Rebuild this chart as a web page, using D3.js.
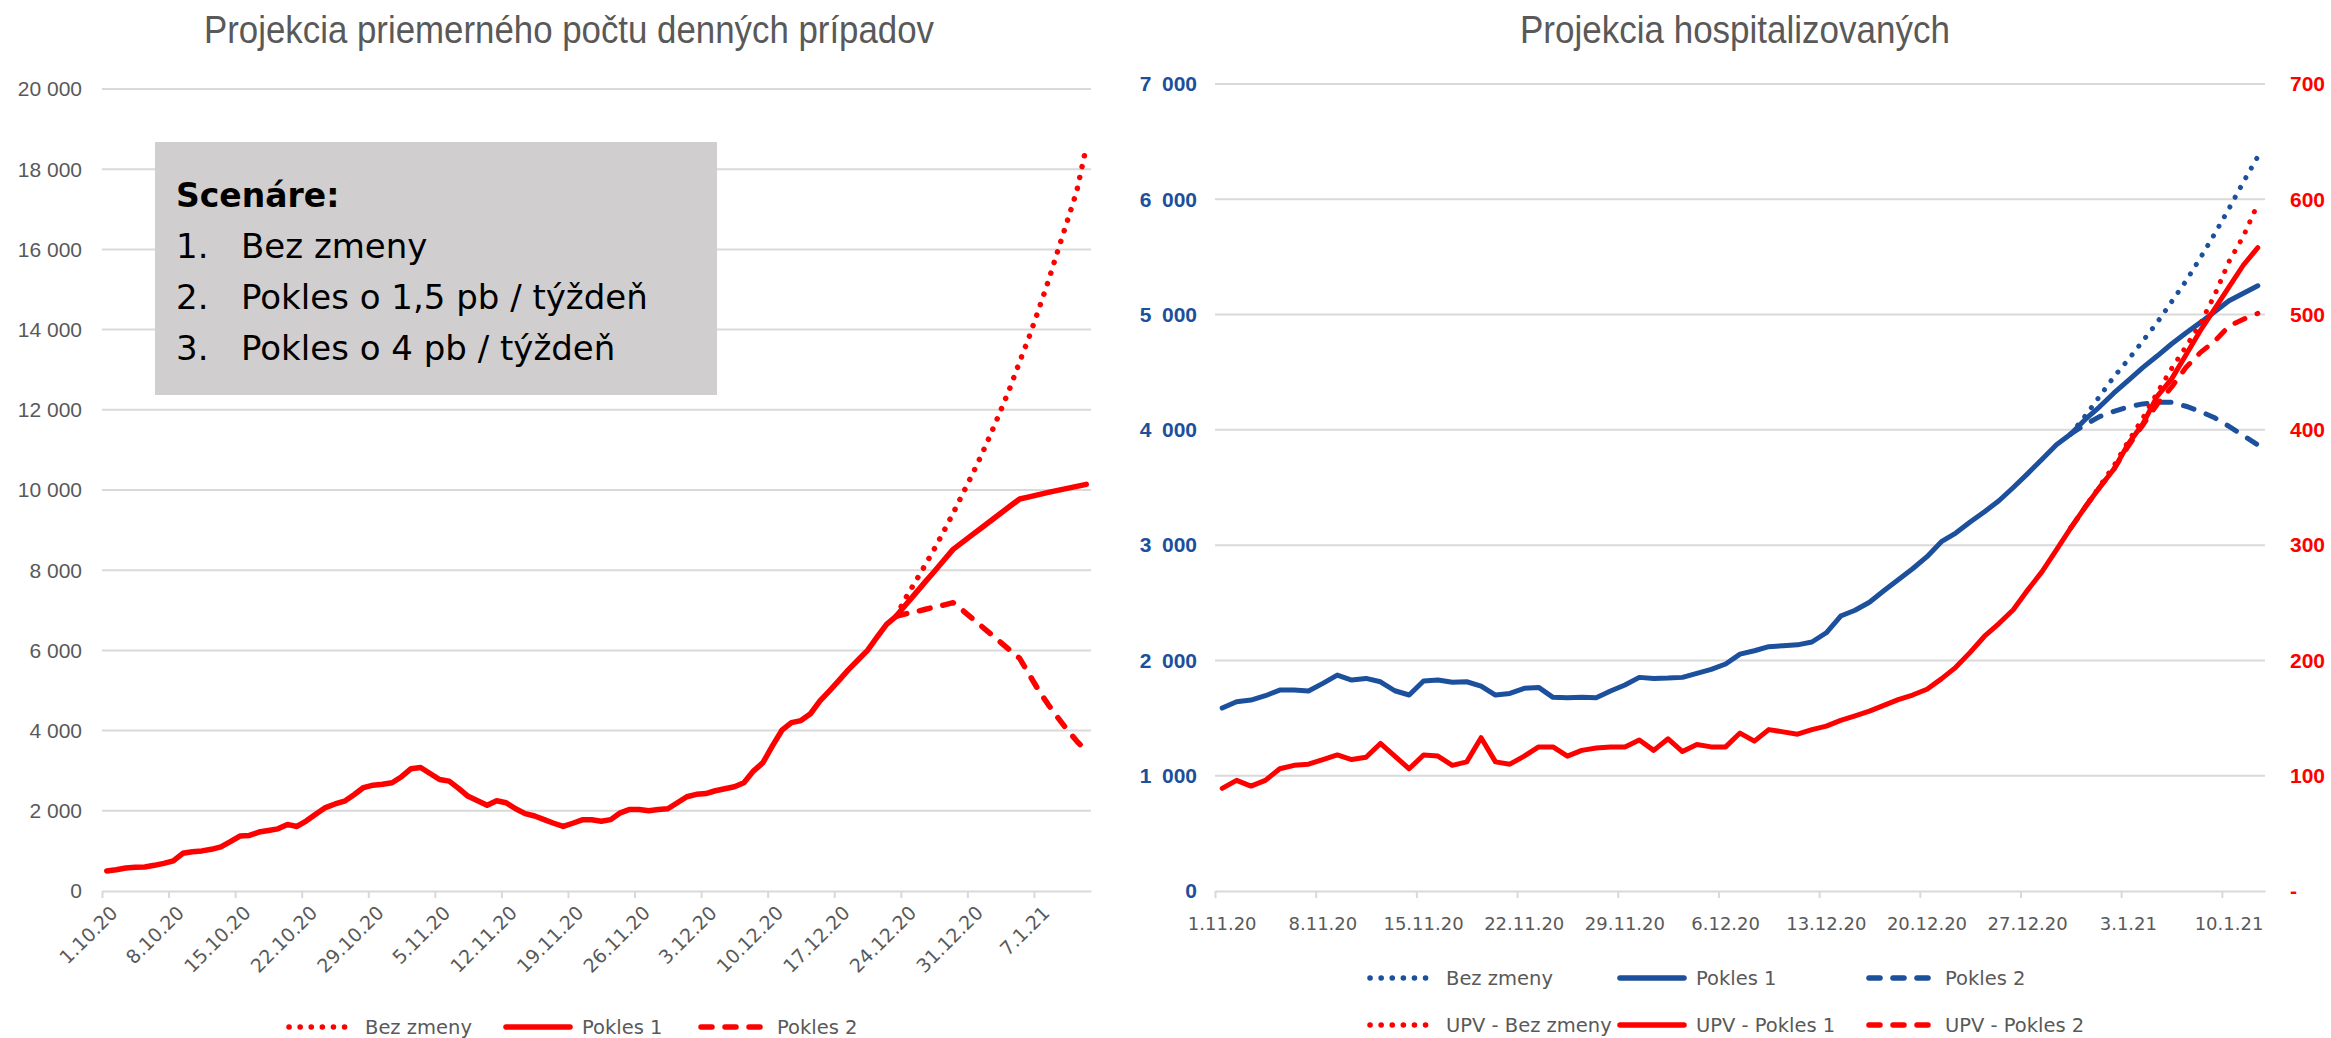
<!DOCTYPE html>
<html>
<head>
<meta charset="utf-8">
<script src="https://d3js.org/d3.v7.min.js"></script>
<style>
  body { margin: 0; background: #fff; }
  svg { display: block; background: #fff; }
</style>
</head>
<body>
<svg id="chart" width="2331" height="1038"></svg>
<script>
// ---- left chart: average daily cases ----
const casesStart = "2020-10-01";
const casesEnd = "2021-01-13";
const casesSplit = "2020-12-23";
const casesTicks = [0, 2000, 4000, 6000, 8000, 10000, 12000, 14000, 16000, 18000, 20000];
// Pokles 1 runs over the whole period (history + projection)
const casesPokles1 = [
  500, 530, 575, 590, 600, 640, 690, 750, 940, 980,
  1000, 1040, 1100, 1230, 1370, 1385, 1470, 1510, 1550, 1660,
  1610, 1750, 1920, 2080, 2170, 2240, 2400, 2580, 2640, 2660,
  2700, 2850, 3050, 3080, 2930, 2780, 2740, 2560, 2360, 2250,
  2140, 2250, 2200, 2050, 1930, 1870, 1780, 1690, 1610, 1690,
  1775, 1775, 1740, 1780, 1950, 2035, 2030, 2000, 2030, 2050,
  2200, 2350, 2410, 2430, 2500, 2550, 2600, 2700, 2990, 3200,
  3620, 4010, 4200, 4250, 4420, 4740, 4990, 5250, 5520, 5760,
  6000, 6330, 6650, 6850, 7130, 7410, 7690, 7960, 8240, 8520,
  8700, 8880, 9060, 9240, 9420, 9600, 9775, 9830, 9885, 9940,
  9990, 10040, 10090, 10140
];
// from 23.12.20
const casesBezZmeny = [6850, 7300, 7700, 8100, 8520, 8960, 9420, 9900, 10380, 10880,
  11420, 11980, 12560, 13200, 13820, 14500, 15200, 15960, 16700, 17450, 18550];
const casesPokles2 = [6850, 6910, 6960, 7020, 7080, 7130, 7190, 7000, 6800, 6600,
  6400, 6200, 6000, 5800, 5400, 5000, 4650, 4330, 4020, 3740, 3490];

// ---- right chart: hospitalised (left axis) and UPV (right axis) ----
const hospStart = "2020-11-01";
const hospEnd = "2021-01-13";
const hospSplit = "2020-12-30";
const hospTicks = [0, 1000, 2000, 3000, 4000, 5000, 6000, 7000];
const upvTicks = [0, 100, 200, 300, 400, 500, 600, 700];
const hospPokles1 = [
  1587, 1642, 1656, 1694, 1743, 1743, 1735, 1801, 1873, 1830,
  1844, 1815, 1737, 1700, 1821, 1830, 1810, 1815, 1778, 1700,
  1714, 1758, 1766, 1680, 1677, 1680, 1677, 1735, 1787, 1853,
  1844, 1847, 1853, 1888, 1922, 1969, 2055, 2084, 2119, 2128,
  2135, 2160, 2240, 2385, 2435, 2505, 2605, 2700, 2795, 2900,
  3030, 3105, 3200, 3290, 3385, 3500, 3620, 3745, 3870, 3965,
  4090, 4200, 4320, 4430, 4540, 4640, 4745, 4840, 4930, 5025,
  5120, 5185, 5250
];
// from 30.12.20
const hospBezZmeny = [3965, 4120, 4290, 4460, 4610, 4770, 4930, 5110, 5290, 5490, 5700, 5920, 6150, 6370];
const hospPokles2 = [3965, 4045, 4115, 4160, 4200, 4225, 4240, 4240, 4205, 4160, 4105, 4030, 3950, 3870];
const upvPokles1 = [
  89, 96, 91, 96, 106, 109, 110, 114, 118, 114,
  116, 128, 117, 106, 118, 117, 109, 112, 133, 112,
  110, 117, 125, 125, 117, 122, 124, 125, 125, 131,
  122, 132, 121, 127, 125, 125, 137, 130, 140, 138,
  136, 140, 143, 148, 152, 156, 161, 166, 170, 175,
  184, 194, 207, 221, 232, 244, 261, 277, 296, 315,
  333, 350, 366, 388, 405, 429, 444, 465, 486, 505,
  524, 543, 558
];
const upvBezZmeny = [315, 333, 351, 369, 390, 410, 432, 453, 472, 492, 517, 546, 568, 596];
const upvPokles2 = [315, 333, 350, 366, 386, 404, 422, 437, 454, 467, 477, 490, 496, 501];

const scenarioNumbers = ["1.", "2.", "3."];
const scenarioLabels = ["Bez zmeny", "Pokles o 1,5 pb / týždeň", "Pokles o 4 pb / týždeň"];
const casesLegend = ["Bez zmeny", "Pokles 1", "Pokles 2"];
const hospLegend = ["Bez zmeny", "Pokles 1", "Pokles 2", "UPV - Bez zmeny", "UPV - Pokles 1", "UPV - Pokles 2"];

const RED = "#ff0000";
const BLUE = "#1c4f9c";
const GREY = "#595959";
const GRID = "#d9d9d9";

const parseDay = d3.timeParse("%Y-%m-%d");
const fmtDay = d3.timeFormat("%-d.%-m.%y");
const fmtCases = d3.formatLocale({ decimal: ",", thousands: "\u00a0", grouping: [3], currency: ["", ""] }).format(",d");
const fmtHosp = d3.formatLocale({ decimal: ",", thousands: "\u2002", grouping: [3], currency: ["", ""] }).format(",d");

const lineStyle = {
  dot: { dash: "0.1 11", cap: "round" },
  solid: { dash: null, cap: "round" },
  dash: { dash: "11 13", cap: "round" }
};

// points sit in the middle of each day
function seriesPoints(start, values) {
  const s = parseDay(start);
  return values.map((v, i) => ({ date: d3.timeHour.offset(d3.timeDay.offset(s, i), 12), value: v }));
}

function drawSeries(g, line, points, color, style, width) {
  g.append("path")
    .datum(points)
    .attr("d", line)
    .attr("fill", "none")
    .attr("stroke", color)
    .attr("stroke-width", width)
    .attr("stroke-linejoin", "round")
    .attr("stroke-linecap", lineStyle[style].cap)
    .attr("stroke-dasharray", lineStyle[style].dash);
}

function drawXAxis(g, x, ticks, bottom) {
  const axis = g.append("g")
    .attr("transform", `translate(0,${bottom})`)
    .call(d3.axisBottom(x).tickValues(ticks).tickSize(7).tickSizeOuter(0).tickFormat(""));
  axis.select(".domain").attr("stroke", GRID).attr("stroke-width", 2);
  axis.selectAll(".tick line").attr("stroke", GRID).attr("stroke-width", 2);
}

function drawLegendItem(g, tx, ty, label, color, style) {
  g.append("line")
    .attr("x1", tx - 76).attr("x2", tx - 12)
    .attr("y1", ty).attr("y2", ty)
    .attr("stroke", color)
    .attr("stroke-width", 5.5)
    .attr("stroke-linecap", lineStyle[style].cap)
    .attr("stroke-dasharray", lineStyle[style].dash);
  g.append("text")
    .attr("x", tx).attr("y", ty).attr("dy", "0.35em")
    .attr("font-family", "DejaVu Sans").attr("font-size", 19.5)
    .attr("fill", GREY)
    .text(label);
}

document.addEventListener("DOMContentLoaded", () => {
  const svg = d3.select("#chart");
  createCasesChart(svg);
  createHospChart(svg);
});

function createCasesChart(svg) {
  const left = 102, right = 1091, top = 89, bottom = 891;
  const g = svg.append("g");

  const x = d3.scaleTime()
    .domain([parseDay(casesStart), parseDay(casesEnd)])
    .range([left, right]);
  const y = d3.scaleLinear().domain([0, 20000]).range([bottom, top]);

  g.append("text")
    .attr("x", 569).attr("y", 43)
    .attr("text-anchor", "middle")
    .attr("font-family", "Liberation Sans").attr("font-size", 39)
    .attr("fill", GREY)
    .attr("textLength", 730).attr("lengthAdjust", "spacingAndGlyphs")
    .text("Projekcia priemerného počtu denných prípadov");

  g.selectAll(".grid")
    .data(casesTicks.filter(d => d > 0))
    .enter().append("line")
    .attr("x1", left).attr("x2", right)
    .attr("y1", d => y(d)).attr("y2", d => y(d))
    .attr("stroke", GRID).attr("stroke-width", 2);

  g.selectAll(".ylab")
    .data(casesTicks)
    .enter().append("text")
    .attr("x", 82).attr("y", d => y(d)).attr("dy", "0.35em")
    .attr("text-anchor", "end")
    .attr("font-family", "Liberation Sans").attr("font-size", 21)
    .attr("fill", GREY)
    .text(d => fmtCases(d));

  const xTicks = d3.timeDay.range(parseDay(casesStart), parseDay(casesEnd), 7);
  drawXAxis(g, x, xTicks, bottom);

  g.selectAll(".xlab")
    .data(xTicks)
    .enter().append("text")
    .attr("transform", d => `translate(${x(d3.timeHour.offset(d, 12)) + 2},${bottom + 13}) rotate(-45)`)
    .attr("dy", "0.75em")
    .attr("text-anchor", "end")
    .attr("font-family", "DejaVu Sans").attr("font-size", 19)
    .attr("fill", GREY)
    .text(d => fmtDay(d));

  // scenario box
  g.append("rect")
    .attr("x", 155).attr("y", 142)
    .attr("width", 562).attr("height", 253)
    .attr("fill", "#d0cece");
  g.append("text")
    .attr("x", 176).attr("y", 207)
    .attr("font-family", "DejaVu Sans").attr("font-weight", "bold").attr("font-size", 33)
    .attr("fill", "#000")
    .text("Scenáre:");
  scenarioLabels.forEach((label, i) => {
    const yy = 258 + i * 51;
    g.append("text")
      .attr("x", 176).attr("y", yy)
      .attr("font-family", "DejaVu Sans").attr("font-size", 34)
      .attr("fill", "#000")
      .text(scenarioNumbers[i]);
    g.append("text")
      .attr("x", 241).attr("y", yy)
      .attr("font-family", "DejaVu Sans").attr("font-size", 34)
      .attr("fill", "#000")
      .text(label);
  });

  const line = d3.line().x(d => x(d.date)).y(d => y(d.value));
  drawSeries(g, line, seriesPoints(casesSplit, casesBezZmeny), RED, "dot", 5.5);
  drawSeries(g, line, seriesPoints(casesStart, casesPokles1), RED, "solid", 5.5);
  drawSeries(g, line, seriesPoints(casesSplit, casesPokles2), RED, "dash", 5.5);

  const styles = ["dot", "solid", "dash"];
  const legendX = [365, 582, 777];
  casesLegend.forEach((label, i) => drawLegendItem(g, legendX[i], 1027, label, RED, styles[i]));
}

function createHospChart(svg) {
  const left = 1215, right = 2265, top = 84, bottom = 891;
  const g = svg.append("g");

  const x = d3.scaleTime()
    .domain([parseDay(hospStart), parseDay(hospEnd)])
    .range([left, right]);
  const y = d3.scaleLinear().domain([0, 7000]).range([bottom, top]);
  const y2 = d3.scaleLinear().domain([0, 700]).range([bottom, top]);

  g.append("text")
    .attr("x", 1735).attr("y", 43)
    .attr("text-anchor", "middle")
    .attr("font-family", "Liberation Sans").attr("font-size", 39)
    .attr("fill", GREY)
    .attr("textLength", 430).attr("lengthAdjust", "spacingAndGlyphs")
    .text("Projekcia hospitalizovaných");

  g.selectAll(".grid")
    .data(hospTicks.filter(d => d > 0))
    .enter().append("line")
    .attr("x1", left).attr("x2", right)
    .attr("y1", d => y(d)).attr("y2", d => y(d))
    .attr("stroke", GRID).attr("stroke-width", 2);

  g.selectAll(".ylab")
    .data(hospTicks)
    .enter().append("text")
    .attr("x", 1197).attr("y", d => y(d)).attr("dy", "0.35em")
    .attr("text-anchor", "end")
    .attr("font-family", "Liberation Sans").attr("font-weight", "bold").attr("font-size", 21)
    .attr("fill", BLUE)
    .text(d => fmtHosp(d));

  g.selectAll(".y2lab")
    .data(upvTicks)
    .enter().append("text")
    .attr("x", 2290).attr("y", d => y2(d)).attr("dy", "0.35em")
    .attr("font-family", "Liberation Sans").attr("font-weight", "bold").attr("font-size", 21)
    .attr("fill", RED)
    .text(d => d === 0 ? "-" : d);

  const xTicks = d3.timeDay.range(parseDay(hospStart), parseDay(hospEnd), 7);
  drawXAxis(g, x, xTicks, bottom);

  g.selectAll(".xlab")
    .data(xTicks)
    .enter().append("text")
    .attr("x", d => x(d3.timeHour.offset(d, 12)))
    .attr("y", 930)
    .attr("text-anchor", "middle")
    .attr("font-family", "DejaVu Sans").attr("font-size", 18)
    .attr("fill", GREY)
    .text(d => fmtDay(d));

  const line = d3.line().x(d => x(d.date)).y(d => y(d.value));
  const line2 = d3.line().x(d => x(d.date)).y(d => y2(d.value));
  drawSeries(g, line, seriesPoints(hospSplit, hospBezZmeny), BLUE, "dot", 5);
  drawSeries(g, line, seriesPoints(hospStart, hospPokles1), BLUE, "solid", 5);
  drawSeries(g, line, seriesPoints(hospSplit, hospPokles2), BLUE, "dash", 5);
  drawSeries(g, line2, seriesPoints(hospSplit, upvBezZmeny), RED, "dot", 5);
  drawSeries(g, line2, seriesPoints(hospStart, upvPokles1), RED, "solid", 5);
  drawSeries(g, line2, seriesPoints(hospSplit, upvPokles2), RED, "dash", 5);

  const styles = ["dot", "solid", "dash"];
  const legendX = [1446, 1696, 1945];
  hospLegend.forEach((label, i) => {
    const color = i < 3 ? BLUE : RED;
    drawLegendItem(g, legendX[i % 3], i < 3 ? 978 : 1025, label, color, styles[i % 3]);
  });
}
</script>
</body>
</html>
